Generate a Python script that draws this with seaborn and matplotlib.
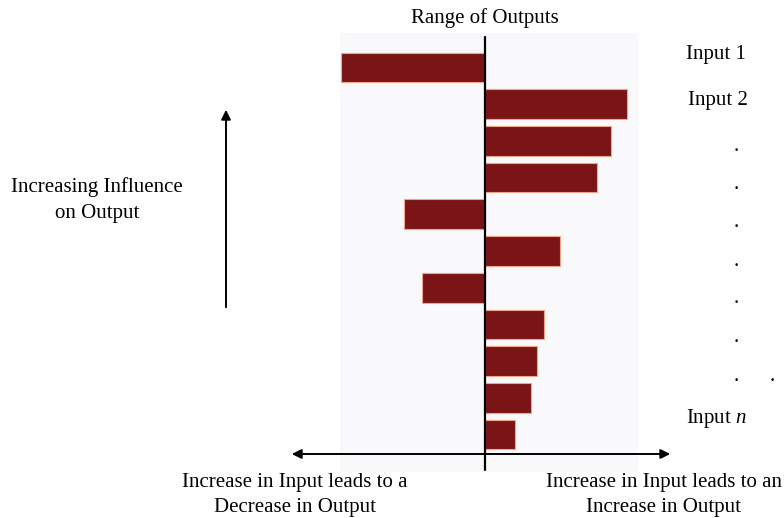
import matplotlib
matplotlib.use("Agg")
import matplotlib.pyplot as plt
import seaborn as sns
import pandas as pd

# Tornado diagram: signed effect of each input on the output, ordered by influence
inputs = ["Input 1", "Input 2", "Input 3", "Input 4", "Input 5", "Input 6",
          "Input 7", "Input 8", "Input 9", "Input 10", "Input n"]
effects = [-14.4, 14.2, 12.6, 11.2, -8.1, 7.5, -6.3, 5.9, 5.2, 4.6, 3.0]

df = pd.DataFrame({"input": inputs, "effect": effects})

sns.set_theme(style="white")
plt.rcParams["font.family"] = ["Liberation Serif", "DejaVu Serif"]
plt.rcParams["text.color"] = "black"
plt.rcParams["mathtext.fontset"] = "custom"
plt.rcParams["mathtext.it"] = "Liberation Serif:italic"
plt.rcParams["mathtext.rm"] = "Liberation Serif"

fig = plt.figure(figsize=(7.84, 5.18), dpi=100)
fig.patch.set_facecolor("white")
ax = fig.add_axes([340 / 784, 1 - 472 / 518, 298 / 784, 439 / 518])
ax.set_facecolor("#f9f9fb")

sns.barplot(data=df, x="effect", y="input", orient="h", ax=ax,
            color="#7b1416", saturation=1, width=0.81,
            edgecolor="#f0a488", linewidth=0.8)

ax.set_xlim(-14.45, 15.35)
ax.set_ylim(11.02, -0.94)
ax.axvline(0, ymin=0.005, ymax=0.99, color="black", lw=1.6, zorder=5)

for s in ax.spines.values():
    s.set_visible(False)
ax.set_xticks([])
ax.set_yticks([])
ax.set_xlabel("")
ax.set_ylabel("")

fs = 15
ls = 1.45
fig.text(485 / 784, 1 - 18 / 518, "Range of Outputs", ha="center", va="center", fontsize=fs)

# Input labels on the right
fig.text(686 / 784, 1 - 55 / 518, "Input 1", ha="left", va="center", fontsize=fs)
fig.text(688 / 784, 1 - 100 / 518, "Input 2", ha="left", va="center", fontsize=fs)
for yy in [148, 186, 224, 263, 300, 339, 378]:
    fig.text(736 / 784, 1 - (yy + 3) / 518, ".", ha="center", va="baseline", fontsize=fs)
fig.text(772 / 784, 1 - 381 / 518, ".", ha="center", va="baseline", fontsize=fs)
fig.text(686 / 784, 1 - 418 / 518, "Input $n$", ha="left", va="center", fontsize=fs)

# Influence arrow and caption
fig.text(97 / 784, 1 - 200 / 518, "Increasing Influence\non Output", ha="center",
         va="center", fontsize=fs, linespacing=ls)
fig.add_artist(matplotlib.patches.FancyArrowPatch(
    (226 / 784, 1 - 310 / 518), (226 / 784, 1 - 107 / 518),
    transform=fig.transFigure, arrowstyle="-|>", mutation_scale=14,
    color="black", lw=1.4))

# Direction arrow along the bottom
fig.add_artist(matplotlib.patches.FancyArrowPatch(
    (289 / 784, 1 - 454 / 518), (673 / 784, 1 - 454 / 518),
    transform=fig.transFigure, arrowstyle="<|-|>", mutation_scale=14,
    color="black", lw=1.4))

fig.text(295 / 784, 1 - 495 / 518, "Increase in Input leads to a\nDecrease in Output",
         ha="center", va="center", fontsize=fs, linespacing=ls)
fig.text(664 / 784, 1 - 495 / 518, "Increase in Input leads to an\nIncrease in Output",
         ha="center", va="center", fontsize=fs, linespacing=ls)

fig.savefig("out.png", dpi=100, facecolor="white")
